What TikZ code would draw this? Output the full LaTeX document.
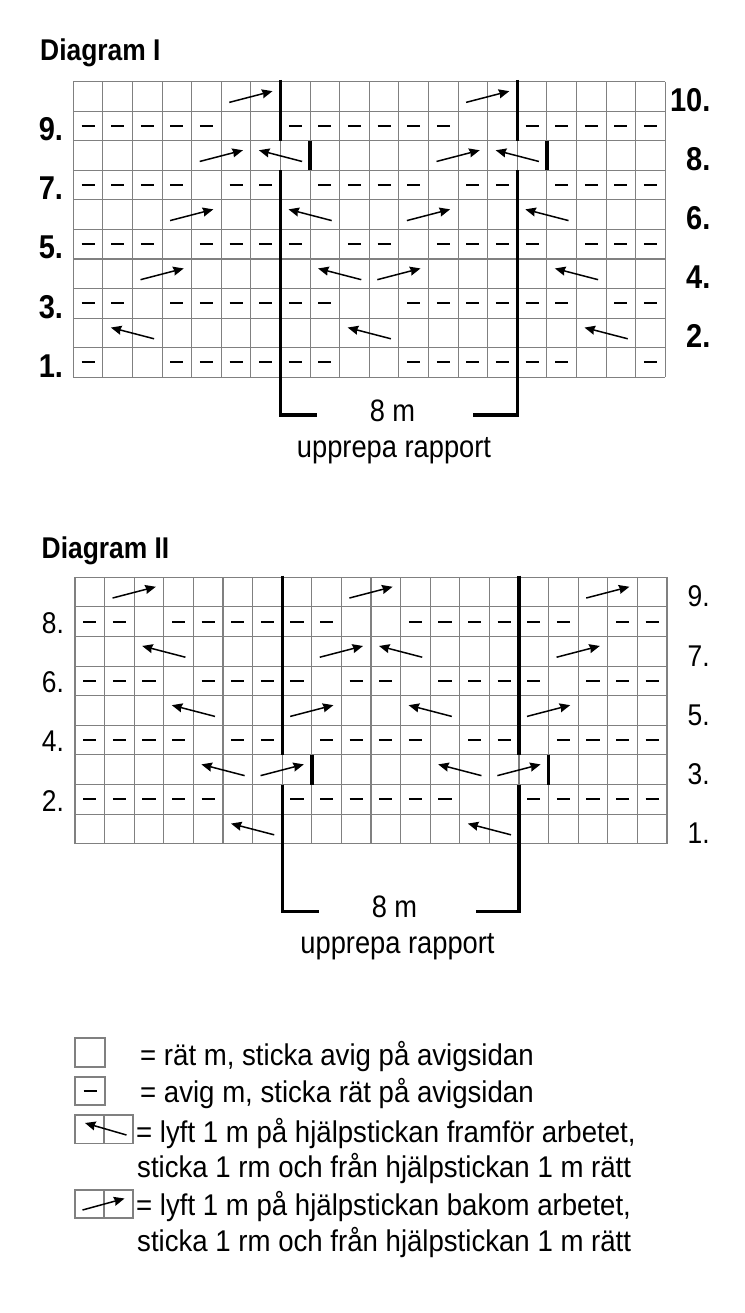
\documentclass[tikz,border=0pt]{standalone}
\usepackage{fontspec}
\setmainfont{Liberation Sans}[FakeStretch=0.88]
\newfontfamily\legfont{Liberation Sans}[FakeStretch=0.92]
\usetikzlibrary{arrows.meta}
\begin{document}
\begin{tikzpicture}[x=1pt,y=-1pt,
  gridline/.style={draw=black!50, line width=1.1pt},
  purl/.style={line width=2pt, black},
  cablearrow/.style={line width=1.5pt, black, -{Stealth[length=10.5pt,width=9pt,inset=1pt]}},
  repline/.style={line width=3.4pt, black, line join=miter},
  rowlab/.style={font=\fontsize{33}{33}\selectfont\bfseries, anchor=base east, inner sep=0pt},
  rowlabII/.style={font=\fontsize{30}{30}\selectfont, anchor=base east, inner sep=0pt},
  titletext/.style={font=\fontsize{30}{30}\selectfont\bfseries, anchor=base west, inner sep=0pt},
  captext/.style={font=\fontsize{31}{31}\selectfont, anchor=base, inner sep=0pt},
  legtext/.style={font=\legfont\fontsize{30}{30}\selectfont, anchor=base west, inner sep=0pt},
]
\useasboundingbox (0,0) rectangle (744,1313);
\fill[white] (0,0) rectangle (744,1313);

% ---------------- Diagram I ----------------
\node[titletext] (titleI) at (40,60.7) {Diagram I};
\begin{scope}[shift={(73.3pt,-81.7pt)}, x=29.6pt, y=-29.55pt]
  \def\nr{10}
  \foreach \i in {0,...,20} \draw[gridline] (\i,0) -- (\i,10);
  \foreach \j in {0,...,10} \draw[gridline] (0,\j) -- (20,\j);
  \foreach \r/\c in {10/6,10/14,8/5,8/13,6/4,6/12,4/3,4/11}
    \draw[cablearrow] ({\c-1+0.27},{\nr-\r+0.7}) -- ({\c+1-0.27},{\nr-\r+0.32});
  \foreach \r/\c in {8/7,8/15,6/8,6/16,4/9,4/17,2/2,2/10,2/18}
    \draw[cablearrow] ({\c+1-0.27},{\nr-\r+0.7}) -- ({\c-1+0.27},{\nr-\r+0.32});
  \draw[repline] (7,-0.06) -- (7,2);
  \draw[repline] (8,2) -- (8,3);
  \draw[repline] (7,3) -- (7,11.28) -- (8.22,11.28);
  \draw[repline] (15,-0.06) -- (15,2);
  \draw[repline] (16,2) -- (16,3);
  \draw[repline] (15,3) -- (15,11.28) -- (13.51,11.28);
  \foreach \r in {1,3,5,7,9}
    \node[rowlab] (I-l\r) at (-0.34,{\nr-\r+1}) {\r.};
  \foreach \r in {2,4,6,8,10}
    \node[rowlab] (I-r\r) at (21.53,{\nr-\r+1}) {\r.};
\end{scope}
\foreach \r/\cl in {9/{1,2,3,4,5,8,9,10,11,12,13,16,17,18,19,20},
                    7/{1,2,3,4,6,7,9,10,11,12,14,15,17,18,19,20},
                    5/{1,2,3,5,6,7,8,10,11,13,14,15,16,18,19,20},
                    3/{1,2,4,5,6,7,8,9,12,13,14,15,16,17,19,20},
                    1/{1,4,5,6,7,8,9,12,13,14,15,16,17,20}}
  {\foreach \c in \cl
    {\pgfmathsetmacro\yy{round(81.7+(10-\r+0.5)*29.55)}
     \draw[purl] ({73.3+(\c-0.72)*29.6},\yy) -- ({73.3+(\c-0.28)*29.6},\yy);}}
\node[captext] (mI) at (392.5,421.7) {8 m};
\node[captext] (rapI) at (394,457.3) {upprepa rapport};

% ---------------- Diagram II ----------------
\node[titletext] (titleII) at (41.5,558.3) {Diagram II};
\begin{scope}[shift={(75pt,-577.3pt)}, x=29.6pt, y=-29.6pt]
  \def\nr{9}
  \foreach \i in {0,...,20} \draw[gridline] (\i,0) -- (\i,9);
  \foreach \j in {0,...,9} \draw[gridline] (0,\j) -- (20,\j);
  \foreach \r/\c in {9/2,9/10,9/18,7/9,7/17,5/8,5/16,3/7,3/15}
    \draw[cablearrow] ({\c-1+0.27},{\nr-\r+0.7}) -- ({\c+1-0.27},{\nr-\r+0.32});
  \foreach \r/\c in {7/3,7/11,5/4,5/12,3/5,3/13,1/6,1/14}
    \draw[cablearrow] ({\c+1-0.27},{\nr-\r+0.7}) -- ({\c-1+0.27},{\nr-\r+0.32});
  \draw[repline] (7,-0.06) -- (7,6);
  \draw[repline] (8,6) -- (8,7);
  \draw[repline] (7,7) -- (7,11.3) -- (8.25,11.3);
  \draw[repline] (15,-0.06) -- (15,6);
  \draw[repline] (16,6) -- (16,7);
  \draw[repline] (15,7) -- (15,11.3) -- (13.55,11.3);
  \foreach \r in {2,4,6,8}
    \node[rowlabII] (II-l\r) at (-0.37,{\nr-\r+1-0.1}) {\r.};
  \foreach \r in {1,3,5,7,9}
    \node[rowlabII] (II-r\r) at (21.45,{\nr-\r+1}) {\r.};
\end{scope}
\foreach \r/\cl in {8/{1,2,4,5,6,7,8,9,12,13,14,15,16,17,19,20},
                    6/{1,2,3,5,6,7,8,10,11,13,14,15,16,18,19,20},
                    4/{1,2,3,4,6,7,9,10,11,12,14,15,17,18,19,20},
                    2/{1,2,3,4,5,8,9,10,11,12,13,16,17,18,19,20}}
  {\foreach \c in \cl
    {\pgfmathsetmacro\yy{round(577.3+(9-\r+0.5)*29.6)}
     \draw[purl] ({75+(\c-0.72)*29.6},\yy) -- ({75+(\c-0.28)*29.6},\yy);}}
\node[captext] (mII) at (394.5,917.3) {8 m};
\node[captext] (rapII) at (397.5,953.3) {upprepa rapport};

% ---------------- Legend ----------------
\draw[gridline] (75,1038) rectangle (105,1067);
\draw[gridline] (75,1077) rectangle (105,1105);
\draw[purl] (83.5,1091) -- (96.5,1091);
\draw[gridline] (75,1115) rectangle (133,1143.5);
\draw[gridline] (104,1115) -- (104,1143.5);
\coordinate (lkT) at (126.5,1135);
\coordinate (lkH) at (85,1123);
\draw[cablearrow] (lkT) -- (lkH);
\draw[gridline] (75,1190) rectangle (133,1218);
\draw[gridline] (104,1190) -- (104,1218);
\coordinate (rkT) at (82.5,1210);
\coordinate (rkH) at (124.5,1198.5);
\draw[cablearrow] (rkT) -- (rkH);
\node[legtext] (leg1) at (140,1065) {= rät m, sticka avig på avigsidan};
\node[legtext] (leg2) at (140,1102) {= avig m, sticka rät på avigsidan};
\node[legtext] (leg3) at (136,1142.5) {= lyft 1 m på hjälpstickan framför arbetet,};
\node[legtext] (leg4) at (137,1177) {sticka 1 rm och från hjälpstickan 1 m rätt};
\node[legtext] (leg5) at (136,1215) {= lyft 1 m på hjälpstickan bakom arbetet,};
\node[legtext] (leg6) at (137,1251) {sticka 1 rm och från hjälpstickan 1 m rätt};
\end{tikzpicture}
\end{document}
